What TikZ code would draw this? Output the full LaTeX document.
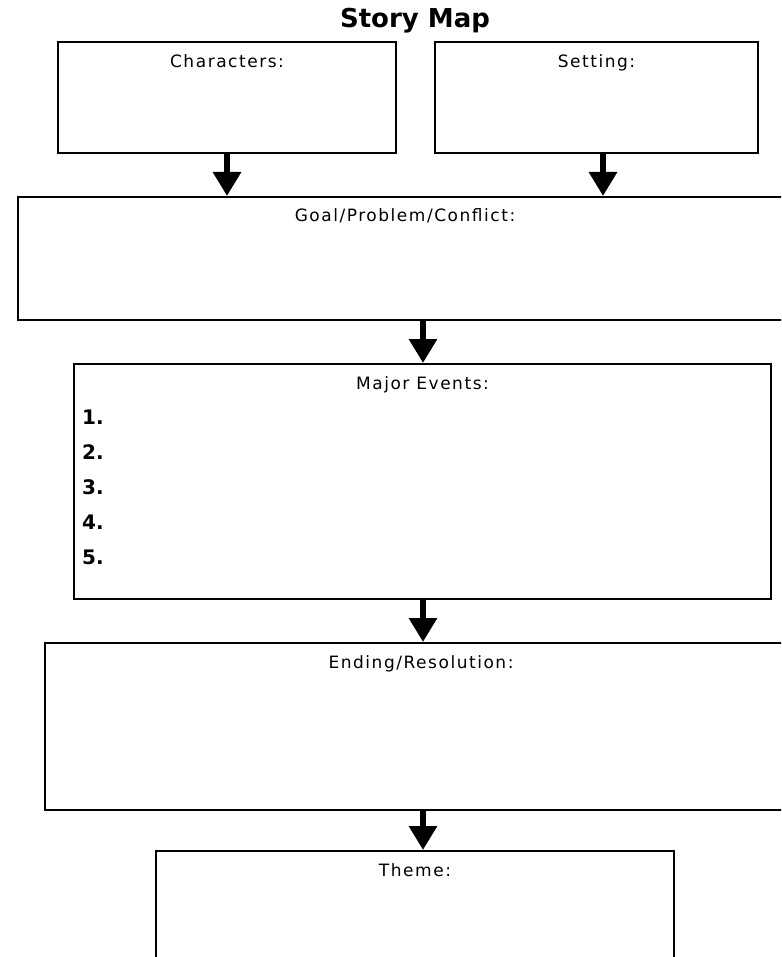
\documentclass[tikz,border=0pt]{standalone}
\usepackage{fontspec}
\usetikzlibrary{arrows.meta}
\newfontfamily\labfam[LetterSpace=9]{DejaVu Sans}
\newfontfamily\boldfam{DejaVu Sans}
\newcommand{\labfont}{\labfam\fontsize{17}{20}\selectfont}
\newcommand{\numfont}{\boldfam\bfseries\fontsize{20}{23}\selectfont}
\newcommand{\ttlfont}{\boldfam\bfseries\fontsize{26}{30}\selectfont}
\tikzset{
  box/.style={draw, line width=2pt, rectangle, inner sep=0pt, anchor=north west},
  lab/.style={font=\labfont, anchor=base, inner sep=0pt},
  num/.style={font=\numfont, anchor=base west, inner sep=0pt},
  flow/.style={line width=6.5pt, -{Triangle[width=27pt,length=24pt]}}
}
\begin{document}
\begin{tikzpicture}[x=1pt,y=-1pt]
\clip (0,0) rectangle (781,957);
\fill[white] (0,0) rectangle (781,957);

\node[font=\ttlfont, anchor=base, inner sep=0pt] (title) at (415,28) {Story Map};

\node[box, minimum width=338pt, minimum height=111pt] (char) at (57,41) {};
\node[box, minimum width=323pt, minimum height=111pt] (set) at (434,41) {};
\node[box, minimum width=774pt, minimum height=123pt] (goal) at (17,196) {};
\node[box, minimum width=697pt, minimum height=235pt] (major) at (73,363) {};
\node[box, minimum width=752pt, minimum height=167pt] (end) at (44,642) {};
\node[box, minimum width=518pt, minimum height=150pt] (theme) at (155,850) {};

\node[lab] (charL) at ([yshift=-27pt]char.north) {Characters:};
\node[lab] (setL) at ([yshift=-27pt]set.north) {Setting:};
\node[lab] (goalL) at ([yshift=-26pt]goal.north) {Goal/Problem/Conflict:};
\node[lab] (majorL) at ([yshift=-26pt]major.north) {Major Events:};
\node[lab] (endL) at ([yshift=-26pt]end.north) {Ending/Resolution:};
\node[lab] (themeL) at ([yshift=-26pt]theme.north) {Theme:};

\node[num] (n1) at (82,424) {1.};
\node[num] (n2) at (82,459) {2.};
\node[num] (n3) at (82,494) {3.};
\node[num] (n4) at (82,529) {4.};
\node[num] (n5) at (82,564) {5.};

\coordinate (sx) at (603,0);
\coordinate (mx) at (423,0);
\draw[flow] (char.south) -- (char.south |- goal.north);
\draw[flow] (set.south -| sx) -- (goal.north -| sx);
\draw[flow] (goal.south -| mx) -- (major.north -| mx);
\draw[flow] (major.south -| mx) -- (end.north -| mx);
\draw[flow] (end.south -| mx) -- (theme.north -| mx);
\end{tikzpicture}
\end{document}
